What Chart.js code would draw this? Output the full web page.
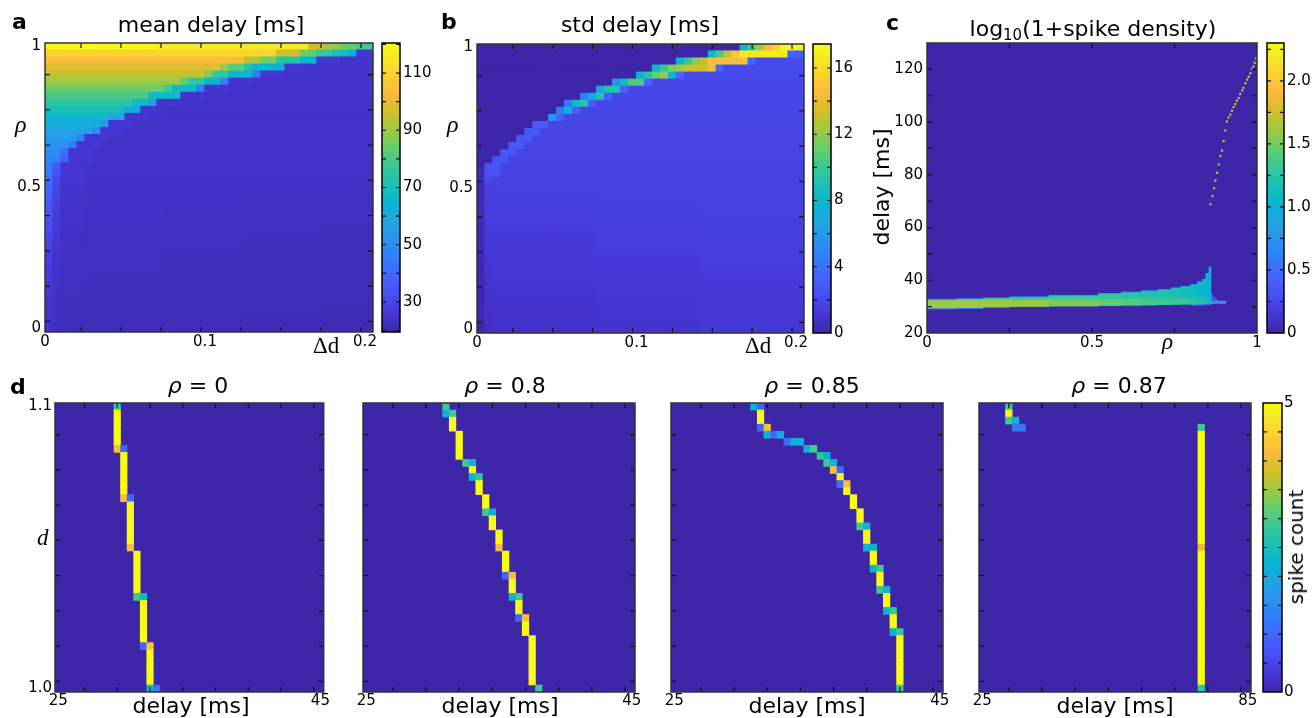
<!DOCTYPE html>
<html>
<head>
<meta charset="utf-8">
<title>delay maps</title>
<script src="https://cdn.jsdelivr.net/npm/chart.js@4.4.1/dist/chart.umd.min.js"></script>
<style>
  html, body { margin: 0; padding: 0; background: #fff; }
  #fig { position: relative; width: 1312px; height: 718px; overflow: hidden; font-family: "DejaVu Sans", sans-serif; color: #000; }
  #fig canvas { position: absolute; }
  .tx { position: absolute; line-height: 1; white-space: nowrap; }
  .ttl { font-size: 22px; transform: translateX(-50%); }
  .let { font-size: 22px; font-weight: bold; }
  .ser { font-family: "Liberation Serif", serif; font-size: 23px; }
  .rot { font-size: 22px; transform: translate(-50%, -50%) rotate(-90deg); }
  sub { font-size: 0.68em; vertical-align: -0.28em; line-height: 0; }
</style>
</head>
<body>
<div id="fig">
  <canvas id="pa" width="420" height="360" style="left:0;top:0"></canvas>
  <canvas id="pb" width="420" height="360" style="left:420px;top:0"></canvas>
  <canvas id="pc" width="472" height="360" style="left:840px;top:0"></canvas>
  <canvas id="ca" width="60" height="360" style="left:376px;top:0"></canvas>
  <canvas id="cb" width="60" height="360" style="left:807px;top:0"></canvas>
  <canvas id="cc" width="52" height="360" style="left:1260px;top:0"></canvas>
  <canvas id="pd1" width="330" height="358" style="left:0;top:360px"></canvas>
  <canvas id="pd2" width="320" height="358" style="left:330px;top:360px"></canvas>
  <canvas id="pd3" width="320" height="358" style="left:650px;top:360px"></canvas>
  <canvas id="pd4" width="300" height="358" style="left:970px;top:360px"></canvas>
  <canvas id="cd" width="56" height="358" style="left:1256px;top:360px"></canvas>

  <div class="tx let" style="left:12px;top:11px">a</div>
  <div class="tx let" style="left:441px;top:11px">b</div>
  <div class="tx let" style="left:886px;top:12px">c</div>
  <div class="tx let" style="left:10px;top:376px">d</div>

  <div class="tx ttl" style="left:211px;top:14px">mean delay [ms]</div>
  <div class="tx ttl" style="left:640px;top:14px">std delay [ms]</div>
  <div class="tx ttl" style="left:1093px;top:18px">log<sub>10</sub>(1+spike density)</div>

  <div class="tx ser" style="left:15px;top:112px;font-size:24px;font-style:italic">ρ</div>
  <div class="tx ser" style="left:447px;top:112px;font-size:24px;font-style:italic">ρ</div>
  <div class="tx ser" style="left:313px;top:334px">Δd</div>
  <div class="tx ser" style="left:745px;top:334px">Δd</div>
  <div class="tx ser" style="left:1162px;top:330px;font-style:italic">ρ</div>
  <div class="tx ser" style="left:37px;top:526px;font-style:italic">d</div>
  <div class="tx rot" style="left:882px;top:187px">delay [ms]</div>
  <div class="tx rot" style="left:1296px;top:547px;font-size:20px">spike count</div>

  <div class="tx ttl" style="left:198px;top:375px"><i>ρ</i> = 0</div>
  <div class="tx ttl" style="left:505px;top:375px"><i>ρ</i> = 0.8</div>
  <div class="tx ttl" style="left:812px;top:375px"><i>ρ</i> = 0.85</div>
  <div class="tx ttl" style="left:1119px;top:375px"><i>ρ</i> = 0.87</div>

  <div class="tx ttl" style="left:191px;top:695px">delay [ms]</div>
  <div class="tx ttl" style="left:500px;top:695px">delay [ms]</div>
  <div class="tx ttl" style="left:807px;top:695px">delay [ms]</div>
  <div class="tx ttl" style="left:1115px;top:695px">delay [ms]</div>
</div>

<script>
// grids (rows listed from the top of each map)
const rhoGrid = Array.from({ length: 41 }, (_, j) => +(1 - 0.025 * j).toFixed(3));
const deltaDGrid = Array.from({ length: 41 }, (_, k) => +(0.005 * k).toFixed(3));
const dGrid = Array.from({ length: 41 }, (_, j) => +(1.1 - 0.0025 * j).toFixed(4));
const delayGrid = Array.from({ length: 41 }, (_, k) => 25 + 0.5 * k);
const delayGrid87 = Array.from({ length: 41 }, (_, k) => 25 + 1.5 * k);

// tick labels
const rhoTicks = [0, 0.5, 1];
const rhoTickLabels = ['0', '0.5', '1'];
const deltaDTicks = [0, 0.1, 0.2];
const deltaDTickLabels = ['0', '0.1', '0.2'];
const cDelayTicks = [20, 40, 60, 80, 100, 120];
const dTicks = [1.0, 1.1];
const dTickLabels = ['1.0', '1.1'];
const meanBarTicks = [30, 50, 70, 90, 110];
const stdBarTicks = [0, 4, 8, 12, 16];
const densBarTicks = [0, 0.5, 1, 1.5, 2];
const densBarLabels = ['0', '0.5', '1.0', '1.5', '2.0'];
const countBarTicks = [0, 5];

// a: mean delay [ms], runs of [cells, value] along delta d, one row per rho
const meanRuns = [
  [[14, 120], [19, 116], [2, 97], [2, 90], [2, 84], [2, 78]],
  [[29, 111], [3, 96], [2, 84], [2, 77], [2, 70], [1, 64], [2, 26]],
  [[25, 104], [2, 93], [2, 85], [3, 73], [2, 64], [3, 25.5], [4, 24.4]],
  [[22, 99], [1, 90], [2, 82], [1, 73], [4, 65], [3, 25.5], [8, 24.4]],
  [[20, 95], [1, 87], [2, 76], [3, 66], [1, 44], [3, 25.5], [11, 24.4]],
  [[17, 90], [1, 83], [2, 75], [2, 65], [1, 46], [3, 25.5], [15, 24.3]],
  [[15, 85], [1, 77], [3, 67], [1, 47], [3, 25.5], [18, 24.3]],
  [[13, 80], [4, 68], [3, 25.5], [21, 24.3]],
  [[11, 75], [2, 67], [1, 56], [3, 25.5], [24, 24.2]],
  [[10, 70], [2, 62], [3, 25.5], [26, 24.2]],
  [[8, 66], [2, 58], [3, 25.5], [28, 24.2]],
  [[7, 61], [1, 53], [3, 25.5], [30, 24.1]],
  [[6, 58], [1, 50], [3, 25.5], [31, 24.1]],
  [[4, 55], [1, 47], [3, 25.5], [33, 24.0]],
  [[3, 52], [1, 45], [3, 25.5], [34, 24.0]],
  [[2, 50], [1, 42], [3, 25.5], [35, 24.0]],
  [[2, 48], [1, 38], [3, 25.5], [35, 23.9]],
  [[1, 46], [1, 36], [3, 25.5], [36, 23.9]],
  [[1, 44], [1, 33], [3, 25.5], [36, 23.9]],
  [[1, 42], [1, 31], [3, 25.5], [10, 23.9], [10, 23.8], [10, 23.7], [6, 23.6]],
  [[1, 40], [1, 30], [3, 25], [10, 23.8], [10, 23.7], [10, 23.6], [6, 23.5]],
  [[1, 38], [1, 29], [3, 24.8], [10, 23.8], [10, 23.6], [10, 23.5], [6, 23.4]],
  [[1, 36.5], [1, 28.5], [3, 24.6], [10, 23.7], [10, 23.5], [10, 23.4], [6, 23.2]],
  [[1, 35], [1, 28], [3, 24.4], [10, 23.6], [10, 23.4], [10, 23.3], [6, 23.1]],
  [[1, 34], [1, 27.5], [3, 24.2], [10, 23.5], [10, 23.3], [10, 23.1], [6, 22.9]],
  [[1, 33], [1, 27], [3, 24], [10, 23.4], [10, 23.2], [10, 23.0], [6, 22.8]],
  [[1, 32], [1, 26.5], [3, 23.8], [10, 23.3], [10, 23.1], [10, 22.9], [6, 22.7]],
  [[1, 31], [1, 26], [3, 23.6], [10, 23.2], [10, 23.0], [10, 22.8], [6, 22.5]],
  [[1, 30], [1, 25.5], [3, 23.5], [10, 23.1], [10, 22.9], [10, 22.6], [6, 22.4]],
  [[1, 29], [1, 25], [3, 23.4], [10, 23.0], [10, 22.8], [10, 22.5], [6, 22.3]],
  [[1, 28], [1, 24.8], [3, 23.3], [10, 22.9], [10, 22.7], [10, 22.4], [6, 22.2]],
  [[1, 27.5], [1, 24.5], [3, 23.2], [10, 22.9], [10, 22.6], [10, 22.3], [6, 22.1]],
  [[1, 27], [1, 24.3], [3, 23.1], [10, 22.8], [10, 22.5], [10, 22.2], [6, 22.0]],
  [[1, 26.5], [1, 24.1], [3, 23.0], [10, 22.7], [10, 22.4], [10, 22.1], [6, 21.9]],
  [[1, 26], [1, 24], [3, 22.9], [10, 22.6], [10, 22.3], [10, 22.0], [6, 21.8]],
  [[1, 25.5], [1, 23.8], [3, 22.8], [10, 22.5], [10, 22.2], [10, 21.9], [6, 21.7]],
  [[1, 25], [1, 23.6], [3, 22.7], [10, 22.4], [10, 22.1], [10, 21.8], [6, 21.6]],
  [[1, 24.8], [1, 23.4], [3, 22.6], [10, 22.3], [10, 22.0], [10, 21.7], [6, 21.5]],
  [[1, 24.6], [1, 23.2], [3, 22.5], [10, 22.2], [10, 21.9], [10, 21.6], [6, 21.4]],
  [[1, 24.4], [1, 23.1], [3, 22.4], [10, 22.1], [10, 21.8], [10, 21.5], [6, 21.3]],
  [[1, 24.2], [1, 23], [3, 22.3], [10, 22.0], [10, 21.7], [10, 21.4], [6, 21.2]]
];

// b: std delay [ms]
const stdRuns = [
  [[33, 0], [1, 7.8], [1, 10], [1, 12.2], [1, 14.4], [1, 15.5], [3, 17.2]],
  [[29, 0], [1, 7.8], [1, 10.5], [1, 13], [1, 15], [6, 16.6], [2, 3.2]],
  [[25, 0], [1, 7.8], [1, 9.8], [1, 11.8], [1, 13], [5, 14.6], [1, 3.6], [6, 2.1]],
  [[22, 0], [1, 7.8], [1, 9.8], [1, 11.5], [1, 12.3], [3, 13.2], [1, 14.2], [1, 3.5], [10, 2.0]],
  [[20, 0], [1, 7.8], [1, 9.5], [1, 11], [1, 12], [1, 8], [1, 3.5], [16, 1.95]],
  [[17, 0], [1, 5.5], [1, 8.5], [2, 10.5], [1, 3.4], [19, 1.95]],
  [[15, 0], [1, 6.5], [2, 9.2], [1, 3.3], [22, 1.9]],
  [[13, 0], [1, 4.3], [1, 7.3], [1, 9.2], [1, 3.2], [24, 1.9]],
  [[11, 0], [1, 4.3], [1, 8.3], [1, 9.3], [1, 3.1], [26, 1.88]],
  [[10, 0], [1, 4.4], [1, 7.6], [1, 3.2], [28, 1.86]],
  [[9, 0], [1, 5.8], [1, 3.2], [30, 1.84]],
  [[7, 0], [2, 2.9], [32, 1.82]],
  [[6, 0], [2, 2.85], [33, 1.8]],
  [[5, 0], [2, 2.8], [34, 1.78]],
  [[4, 0], [2, 2.75], [35, 1.76]],
  [[3, 0], [2, 2.7], [36, 1.74]],
  [[2, 0], [2, 2.6], [37, 1.72]],
  [[1, 0], [2, 2.5], [38, 1.7]],
  [[1, 0.3], [2, 2.3], [38, 1.67]],
  [[1, 0.3], [1, 1.8], [13, 1.6], [13, 1.63], [13, 1.66]],
  [[1, 0.3], [1, 1.7], [13, 1.56], [13, 1.6], [13, 1.64]],
  [[1, 0.3], [1, 1.6], [13, 1.52], [13, 1.57], [13, 1.62]],
  [[1, 0.3], [1, 1.5], [13, 1.48], [13, 1.54], [13, 1.6]],
  [[1, 0.28], [1, 1.45], [13, 1.44], [13, 1.5], [13, 1.57]],
  [[1, 0.28], [1, 1.4], [13, 1.4], [13, 1.47], [13, 1.54]],
  [[1, 0.26], [1, 1.35], [13, 1.36], [13, 1.44], [13, 1.51]],
  [[1, 0.26], [1, 1.3], [13, 1.32], [13, 1.4], [13, 1.48]],
  [[1, 0.24], [1, 1.25], [13, 1.28], [13, 1.37], [13, 1.45]],
  [[1, 0.24], [1, 1.2], [13, 1.24], [13, 1.34], [13, 1.42]],
  [[1, 0.22], [1, 1.15], [13, 1.2], [13, 1.3], [13, 1.4]],
  [[1, 0.22], [1, 1.1], [13, 1.16], [13, 1.27], [13, 1.37]],
  [[1, 0.2], [1, 1.05], [13, 1.12], [13, 1.24], [13, 1.34]],
  [[1, 0.2], [1, 1.0], [13, 1.08], [13, 1.2], [13, 1.31]],
  [[1, 0.18], [1, 0.95], [13, 1.04], [13, 1.17], [13, 1.28]],
  [[1, 0.18], [1, 0.9], [13, 1.0], [13, 1.14], [13, 1.25]],
  [[1, 0.16], [1, 0.85], [13, 0.96], [13, 1.1], [13, 1.22]],
  [[1, 0.16], [1, 0.8], [13, 0.92], [13, 1.07], [13, 1.2]],
  [[1, 0.14], [1, 0.76], [13, 0.88], [13, 1.04], [13, 1.17]],
  [[1, 0.14], [1, 0.72], [13, 0.84], [13, 1.0], [13, 1.14]],
  [[1, 0.12], [1, 0.68], [13, 0.8], [13, 0.97], [13, 1.11]],
  [[1, 0.12], [1, 0.65], [13, 0.76], [13, 0.94], [13, 1.08]]
];

// c: log10(1+spike density), band read in rho segments
const cSegStart = [0, 0.09, 0.17, 0.25, 0.37, 0.52, 0.59, 0.65, 0.70, 0.74, 0.77, 0.80, 0.82, 0.835, 0.845, 0.855];
const cBandLow = [29.6, 29.7, 29.9, 30.1, 30.3, 30.5, 30.6, 30.7, 30.8, 30.9, 31.0, 31.0, 31.1, 31.1, 31.2, 31.2];
const cCoreTop = [32.0, 32.1, 32.2, 32.3, 32.5, 32.6, 32.7, 32.8, 32.9, 33.0, 33.0, 33.0, 33.0, 33.0, 33.0, 33.0];
const cBandTop = [32.4, 32.6, 32.9, 33.3, 33.9, 34.6, 35.1, 35.6, 36.1, 36.7, 37.3, 38.0, 39.0, 40.3, 42.5, 45.0];
const cCoreVal = [1.62, 1.62, 1.6, 1.58, 1.52, 1.45, 1.4, 1.35, 1.32, 1.3, 1.28, 1.25, 1.22, 1.2, 1.15, 1.1];
const cUpperVal = [1.5, 1.5, 1.45, 1.35, 1.3, 1.28, 1.25, 1.22, 1.2, 1.18, 1.15, 1.12, 1.1, 1.05, 1.0, 0.95];
const cTopEdgeVal = [0.6, 0.6, 0.65, 0.7, 0.75, 0.8, 0.8, 0.8, 0.85, 0.85, 0.85, 0.85, 0.85, 0, 0, 0];
const cLowEdgeVal = [0.55, 0.55, 0, 0, 0, 0, 0, 0, 0, 0, 0, 0.5, 0.5, 0.5, 0.45, 0.45];
const cBandEnd = 0.86;
const cTail = { start: 0.86, end: 0.905, low: 31.3, high: 32.0, value: 0.8 };
const cSpeckle = [[0.8625, 32.2, 34.8, 0.4], [0.8675, 32.2, 33.8, 0.35], [0.8725, 32.1, 33.2, 0.3], [0.8775, 32.0, 32.6, 0.3]];
const cDotRho = [0.859, 0.865, 0.870, 0.874, 0.879, 0.884, 0.889, 0.894, 0.899, 0.904, 0.909, 0.914, 0.919, 0.924, 0.929,
  0.934, 0.939, 0.944, 0.949, 0.955, 0.959, 0.965, 0.970, 0.975, 0.980, 0.985, 0.989, 0.993, 0.997];
const cDotDelay = [68.8, 71.9, 74.9, 77.8, 80.8, 83.9, 87.2, 89.2, 92.8, 96.8, 100.2, 101.7, 102.8, 104.3, 105.7,
  106.8, 108.1, 109.1, 110.6, 112.0, 113.0, 114.7, 116.1, 117.2, 118.5, 120.1, 121.1, 122.5, 124.1];
const cDotValue = 1.8;

// d: spike count, cells [column, firstRow, lastRow, count]
const track0 = [[9, 0, 0, 2.9], [9, 1, 5, 5], [9, 6, 6, 4.2], [10, 6, 6, 1.0], [10, 7, 12, 5], [10, 13, 13, 4.2], [11, 13, 13, 1.0],
  [11, 14, 19, 5], [11, 20, 20, 4.2], [12, 21, 26, 5], [12, 27, 27, 2.9], [13, 27, 27, 2.3], [13, 28, 33, 5], [13, 34, 34, 1.0],
  [14, 34, 34, 4.2], [14, 35, 39, 5], [14, 40, 40, 2.2], [15, 40, 40, 1.2]];
const track80 = [[12, 0, 0, 2.9], [12, 1, 1, 2.1], [13, 1, 1, 2.9], [13, 2, 3, 5], [14, 4, 7, 5], [15, 8, 8, 2.9], [16, 8, 8, 2.2],
  [16, 9, 9, 5], [16, 10, 10, 2.2], [17, 10, 10, 2.8], [17, 11, 12, 5], [18, 13, 14, 5], [18, 15, 15, 2.9], [19, 15, 15, 2.2],
  [19, 16, 17, 5], [20, 18, 19, 5], [20, 20, 20, 4.2], [21, 21, 23, 5], [21, 24, 24, 1.0], [22, 24, 24, 4.2], [22, 25, 26, 5],
  [22, 27, 27, 2.2], [23, 27, 27, 2.9], [23, 28, 29, 5], [23, 30, 30, 1.0], [24, 30, 30, 4.2], [24, 31, 32, 5], [25, 33, 39, 5],
  [26, 40, 40, 2.9]];
const track85 = [[12, 0, 0, 2.2], [13, 0, 0, 1.0], [13, 1, 2, 5], [13, 3, 3, 1.0], [14, 3, 3, 4.2], [14, 4, 4, 2.2], [15, 4, 4, 1.0],
  [16, 4, 4, 2.0], [17, 5, 5, 1.0], [18, 5, 5, 2.1], [19, 5, 5, 2.1], [20, 6, 6, 2.2], [21, 6, 6, 2.9], [22, 7, 7, 2.8], [23, 7, 7, 2.2],
  [23, 8, 8, 2.9], [24, 8, 8, 2.2], [24, 9, 9, 4.2], [25, 9, 9, 1.0], [25, 10, 10, 5], [25, 11, 11, 1.0], [26, 11, 11, 4.2],
  [26, 12, 12, 5], [27, 13, 14, 5], [28, 15, 16, 5], [28, 17, 17, 2.9], [29, 17, 17, 2.2], [29, 18, 19, 5], [29, 20, 20, 2.2],
  [30, 20, 20, 2.2], [30, 21, 22, 5], [30, 23, 23, 2.2], [31, 23, 23, 2.9], [31, 24, 25, 5], [31, 26, 26, 2.9], [32, 26, 26, 2.2],
  [32, 27, 28, 5], [32, 29, 29, 2.2], [33, 29, 29, 2.9], [33, 30, 31, 5], [33, 32, 32, 2.2], [34, 32, 32, 2.9], [34, 33, 39, 5],
  [34, 40, 40, 2.9]];
const track87 = [[4, 0, 0, 2.9], [4, 1, 1, 5], [4, 2, 2, 2.9], [5, 2, 2, 2.2], [5, 3, 3, 1.2], [6, 3, 3, 1.2],
  [33, 3, 3, 2.9], [33, 4, 19, 5], [33, 20, 20, 4.0], [33, 21, 39, 5], [33, 40, 40, 2.8]];

// parula colormap
const PARULA = [
  [62, 38, 168], [69, 55, 213], [72, 77, 240], [69, 99, 253], [50, 124, 252], [43, 145, 239], [32, 165, 227],
  [8, 181, 208], [25, 191, 182], [55, 200, 151], [100, 205, 111], [157, 201, 67], [209, 191, 39], [248, 186, 61],
  [252, 207, 48], [245, 233, 36], [249, 251, 21]
];
const PARULA_POS = [0, 4, 8, 12, 16, 20, 24, 28, 32, 36, 40, 44, 48, 52, 56, 60, 63].map(i => i / 63);

function parula(t) {
  t = Math.max(0, Math.min(1, t));
  let i = 0;
  while (i < PARULA_POS.length - 2 && t > PARULA_POS[i + 1]) i++;
  const f = (t - PARULA_POS[i]) / (PARULA_POS[i + 1] - PARULA_POS[i]);
  const a = PARULA[i], b = PARULA[i + 1];
  const c = a.map((v, k) => Math.round(v + (b[k] - v) * f));
  return `rgb(${c[0]},${c[1]},${c[2]})`;
}
const colorOf = (v, lo, hi) => parula((v - lo) / (hi - lo));

function expandRuns(runs, n) {
  const out = [];
  runs.forEach(([count, v]) => { for (let i = 0; i < count; i++) out.push(v); });
  while (out.length < n) out.push(out[out.length - 1]);
  return out.slice(0, n);
}

function runDataset(runs, lo, hi) {
  const data = [], colors = [];
  runs.forEach((row, j) => {
    expandRuns(row, deltaDGrid.length).forEach((v, k) => {
      data.push({ x: deltaDGrid[k] + 0.0025, y: [rhoGrid[j] - 0.0125, rhoGrid[j] + 0.0125] });
      colors.push(colorOf(v, lo, hi));
    });
  });
  return { data, backgroundColor: colors, inflateAmount: 0.6 };
}

function trackDataset(cells, xs) {
  const data = [], colors = [];
  cells.forEach(([col, r0, r1, v]) => {
    for (let r = r0; r <= r1; r++) {
      data.push({ x: xs[col], y: [dGrid[r] - 0.00125, dGrid[r] + 0.00125] });
      colors.push(colorOf(v, 0, 5));
    }
  });
  return { data, backgroundColor: colors, inflateAmount: 0.3 };
}

function bandDatasets() {
  const lo = 0, hi = 2.3;
  const sets = { core: [], upper: [], top: [], low: [], tail: [], speck: [] };
  const cols = { core: [], upper: [], top: [], low: [], tail: [], speck: [] };
  const add = (key, x, y0, y1, v) => { sets[key].push({ x, y: [y0, y1] }); cols[key].push(colorOf(v, lo, hi)); };
  for (let i = 0; i < 181; i++) {
    const r = +(0.0025 + 0.005 * i).toFixed(4);
    if (r < cBandEnd) {
      let s = 0;
      while (s < cSegStart.length - 1 && r >= cSegStart[s + 1]) s++;
      add('core', r, cBandLow[s], cCoreTop[s], cCoreVal[s]);
      add('upper', r, cCoreTop[s], cBandTop[s], cUpperVal[s]);
      if (cTopEdgeVal[s] > 0) add('top', r, cBandTop[s], cBandTop[s] + 0.35, cTopEdgeVal[s]);
      if (cLowEdgeVal[s] > 0) add('low', r, cBandLow[s] - 0.4, cBandLow[s], cLowEdgeVal[s]);
    } else if (r < cTail.end) {
      add('tail', r, cTail.low, cTail.high, cTail.value);
    }
  }
  cSpeckle.forEach(([x, y0, y1, v]) => add('speck', x, y0, y1, v));
  return Object.keys(sets).map(k => ({ data: sets[k], backgroundColor: cols[k], inflateAmount: 0.5 }));
}

// frame + inward tick marks
const framePlugin = {
  id: 'frame',
  beforeDatasetsDraw(chart, args, opts) {
    if (!opts.bg) return;
    const { ctx, chartArea: a } = chart;
    ctx.save();
    ctx.fillStyle = opts.bg;
    ctx.fillRect(a.left, a.top, a.right - a.left, a.bottom - a.top);
    ctx.restore();
  },
  afterDatasetsDraw(chart, args, opts) {
    const { ctx, chartArea: a, scales } = chart;
    const len = opts.len || 5;
    ctx.save();
    ctx.strokeStyle = '#111';
    ctx.lineWidth = 1.2;
    ctx.beginPath();
    (opts.xTicks || []).forEach(v => {
      const p = scales.x.getPixelForValue(v);
      ctx.moveTo(p, a.bottom); ctx.lineTo(p, a.bottom - len);
      ctx.moveTo(p, a.top); ctx.lineTo(p, a.top + len);
    });
    (opts.yTicks || []).forEach(v => {
      const p = scales.y.getPixelForValue(v);
      ctx.moveTo(a.left, p); ctx.lineTo(a.left + len, p);
      ctx.moveTo(a.right, p); ctx.lineTo(a.right - len, p);
    });
    ctx.stroke();
    ctx.strokeStyle = opts.frameColor || '#333';
    ctx.lineWidth = 1.5;
    ctx.strokeRect(a.left, a.top, a.right - a.left, a.bottom - a.top);
    ctx.restore();
  }
};

const tickFont = { family: 'DejaVu Sans', size: 15 };

function axis(o, horizontal) {
  return {
    type: 'linear',
    min: o.min,
    max: o.max,
    offset: false,
    position: horizontal ? 'bottom' : 'left',
    afterBuildTicks: s => { s.ticks = (o.ticks || []).map(v => ({ value: v })); },
    afterFit: s => { if (horizontal) s.height = o.size; else s.width = o.size; },
    grid: { display: false, drawTicks: false },
    border: { display: false },
    ticks: {
      display: !!o.labels,
      autoSkip: false,
      maxRotation: 0,
      padding: o.pad || 0,
      color: '#000',
      font: tickFont,
      callback: (v, i) => (o.labels ? o.labels[i] : '')
    }
  };
}

function panel(id, o) {
  return new Chart(document.getElementById(id), {
    type: 'bar',
    data: { datasets: o.datasets },
    options: {
      responsive: false,
      animation: false,
      events: [],
      layout: { padding: o.pad },
      datasets: { bar: { grouped: false, barPercentage: 1, categoryPercentage: 1, borderWidth: 0 } },
      plugins: {
        legend: { display: false },
        tooltip: { enabled: false },
        frame: { xTicks: o.x.marks, yTicks: o.y.marks, bg: o.bg }
      },
      scales: { x: axis(o.x, true), y: axis(o.y, false) }
    },
    plugins: [framePlugin]
  });
}

function parulaGradient(context) {
  const chart = context.chart;
  const a = chart.chartArea;
  if (!a) return 'rgba(0,0,0,0)';
  const g = chart.ctx.createLinearGradient(0, a.bottom, 0, a.top);
  PARULA.forEach((c, i) => g.addColorStop(PARULA_POS[i], `rgb(${c[0]},${c[1]},${c[2]})`));
  return g;
}

function colorbar(id, o) {
  return new Chart(document.getElementById(id), {
    type: 'bar',
    data: {
      labels: [''],
      datasets: [{ data: [[o.lo, o.hi]], backgroundColor: parulaGradient, borderWidth: 0, barPercentage: 1, categoryPercentage: 1 }]
    },
    options: {
      responsive: false,
      animation: false,
      events: [],
      layout: { padding: o.pad },
      plugins: {
        legend: { display: false },
        tooltip: { enabled: false },
        frame: { yTicks: o.marks, frameColor: '#000', len: 4 }
      },
      scales: {
        x: { display: false },
        y: {
          position: 'right',
          min: o.lo,
          max: o.hi,
          afterBuildTicks: s => { s.ticks = o.ticks.map(v => ({ value: v })); },
          afterFit: s => { s.width = o.size; },
          grid: { display: false, drawTicks: false },
          border: { display: false },
          ticks: {
            autoSkip: false, padding: o.tickPad || 3, color: '#000', font: tickFont,
            callback: (v, i) => o.labels[i]
          }
        }
      }
    },
    plugins: [framePlugin]
  });
}

const bg0 = parula(0);
const abXMarks = [0, 1, 2, 3, 4, 5, 6, 7].map(k => 0.0225 + 0.025 * k);
const abYMarks = [0, 1, 2, 3, 4, 5, 6, 7].map(k => 0.9 - 0.125 * k);
const dYMarks = [0, 1, 2, 3, 4, 5, 6, 7].map(k => 1.09 - 0.0125 * k);
const dXMarks = [0, 1, 2, 3, 4, 5, 6, 7].map(k => 27 + 2.5 * k);
const dXMarks87 = [0, 1, 2, 3, 4, 5, 6, 7].map(k => 31 + 7.5 * k);

const rhoAxis = (size) => ({ min: -0.0125, max: 1.0125, ticks: rhoTicks, labels: rhoTickLabels, marks: abYMarks, size, pad: 4 });
const dAxisX = { min: 24.75, max: 45.25, ticks: [25, 45], labels: ['25', '45'], marks: dXMarks, size: 26, pad: 0 };
const dAxisY = (size, withLabels) => ({ min: 0.99875, max: 1.10125, ticks: dTicks, labels: withLabels ? dTickLabels : null, marks: dYMarks, size, pad: 3 });

panel('pa', {
  datasets: [runDataset(meanRuns, 19.5, 120.5)],
  pad: { left: 0, right: 47, top: 43, bottom: 0 },
  x: { min: 0, max: 0.205, ticks: deltaDTicks, labels: deltaDTickLabels, marks: abXMarks, size: 28, pad: 1 },
  y: rhoAxis(45)
});

panel('pb', {
  datasets: [runDataset(stdRuns, 0, 17.45)],
  pad: { left: 0, right: 36, top: 44, bottom: 0 },
  x: { min: 0, max: 0.205, ticks: deltaDTicks, labels: deltaDTickLabels, marks: abXMarks, size: 27, pad: 1 },
  y: rhoAxis(57)
});

const dots = {
  type: 'scatter',
  data: cDotRho.map((r, i) => ({ x: r, y: cDotDelay[i] })),
  pointStyle: 'rect',
  radius: 1.5,
  borderWidth: 0,
  backgroundColor: colorOf(cDotValue, 0, 2.3)
};
panel('pc', {
  datasets: [dots, ...bandDatasets()],
  pad: { left: 0, right: 55, top: 43, bottom: 0 },
  x: { min: 0, max: 1, ticks: rhoTicks, labels: rhoTickLabels, marks: [0.25, 0.5, 0.75], size: 27, pad: 1 },
  y: { min: 20, max: 130, ticks: cDelayTicks, labels: cDelayTicks.map(String), marks: [30, 40, 50, 60, 70, 80, 90, 100, 110, 120], size: 87, pad: 4 },
  bg: bg0
});

panel('pd1', { datasets: [trackDataset(track0, delayGrid)], pad: { left: 0, right: 4, top: 43, bottom: 0 }, x: dAxisX, y: dAxisY(55, true), bg: bg0 });
panel('pd2', { datasets: [trackDataset(track80, delayGrid)], pad: { left: 0, right: 15, top: 43, bottom: 0 }, x: dAxisX, y: dAxisY(33, false), bg: bg0 });
panel('pd3', { datasets: [trackDataset(track85, delayGrid)], pad: { left: 0, right: 27, top: 43, bottom: 0 }, x: dAxisX, y: dAxisY(21, false), bg: bg0 });
panel('pd4', {
  datasets: [trackDataset(track87, delayGrid87)],
  pad: { left: 0, right: 19, top: 43, bottom: 0 },
  x: { min: 24.25, max: 85.75, ticks: [25, 85], labels: ['25', '85'], marks: dXMarks87, size: 26, pad: 0 },
  y: dAxisY(9, false),
  bg: bg0
});

colorbar('ca', { lo: 19.5, hi: 120.5, ticks: meanBarTicks, labels: meanBarTicks.map(String), marks: [20, 30, 40, 50, 60, 70, 80, 90, 100, 110, 120], pad: { left: 6, right: 0, top: 43, bottom: 28 }, size: 36 });
colorbar('cb', { lo: 0, hi: 17.45, ticks: stdBarTicks, labels: stdBarTicks.map(String), marks: [2, 4, 6, 8, 10, 12, 14, 16], pad: { left: 6, right: 0, top: 44, bottom: 27 }, size: 36 });
colorbar('cc', { lo: 0, hi: 2.3, ticks: densBarTicks, labels: densBarLabels, marks: [0.25, 0.5, 0.75, 1, 1.25, 1.5, 1.75, 2, 2.25], pad: { left: 7, right: 0, top: 43, bottom: 27 }, size: 28 });
colorbar('cd', { lo: 0, hi: 5, ticks: countBarTicks, labels: ['0', '5'], marks: [0.5, 1, 1.5, 2, 2.5, 3, 3.5, 4, 4.5], pad: { left: 7, right: 0, top: 43, bottom: 26 }, size: 30, tickPad: 2 });
</script>
</body>
</html>
